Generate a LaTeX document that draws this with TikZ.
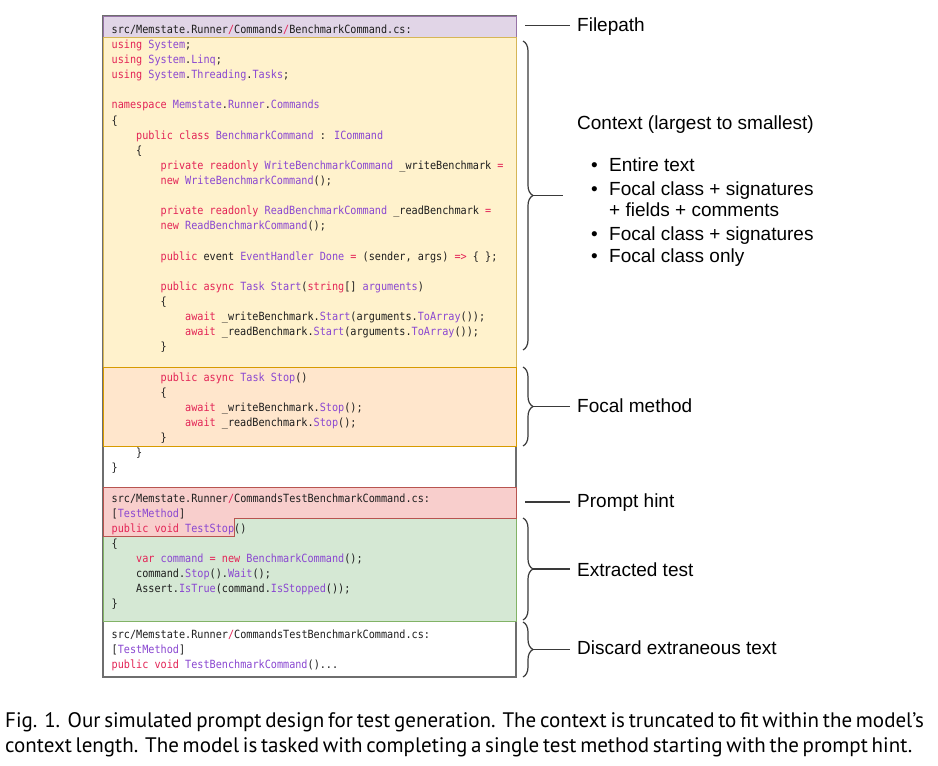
\documentclass[tikz,border=0pt]{standalone}
\usepackage{fontspec}
\usetikzlibrary{decorations.pathreplacing}
\newfontfamily\codefont[FakeStretch=0.9]{DejaVu Sans Mono}
\newfontfamily\labfont{Liberation Sans}
\newfontfamily\capfont{PT Sans}
\definecolor{kwc}{HTML}{E32456}
\definecolor{tyc}{HTML}{8A47D1}
\definecolor{purF}{HTML}{E1D5E7}\definecolor{purD}{HTML}{9673A6}
\definecolor{yelF}{HTML}{FFF2CC}\definecolor{yelD}{HTML}{D6B656}
\definecolor{oraF}{HTML}{FFE6CC}\definecolor{oraD}{HTML}{D79B00}
\definecolor{redF}{HTML}{F8CECC}\definecolor{redD}{HTML}{B85450}
\definecolor{greF}{HTML}{D5E8D4}\definecolor{greD}{HTML}{82B366}
\definecolor{outD}{HTML}{6E6E6E}
\definecolor{brc}{HTML}{3A3A3A}
\definecolor{codetext}{HTML}{1E1E1E}
\newcommand\ckw[1]{\textcolor{kwc}{#1}}
\newcommand\cty[1]{\textcolor{tyc}{#1}}
\newcommand\codeln[3]{\node[codeline] (l#1) at ({111.5+#2*6.12},{33.3+#1*15.12}) {#3};}
\tikzset{
  codeline/.style={anchor=base west,inner sep=0pt,text=codetext,font=\codefont\fontsize{11.3}{13}\selectfont},
  lab/.style={anchor=base west,inner sep=0pt,font=\labfont\fontsize{19}{22}\selectfont},
  captext/.style={anchor=base west,inner sep=0pt,font=\capfont\fontsize{21}{25}\selectfont},
  bracest/.style={draw=brc,line width=1.2pt,decorate,decoration={brace,amplitude=10pt}},
  conn/.style={draw=brc,line width=1.2pt},
  boxln/.style={line width=1pt},
}
\begin{document}
\begin{tikzpicture}[x=1pt,y=-1pt]
\useasboundingbox (0,0) rectangle (938,766);
\fill[white] (0,0) rectangle (938,766);
% outer box
\draw[outD,line width=1.3pt,fill=white] (103,16) rectangle (516,677);
% sections
\filldraw[boxln,fill=purF,draw=purD] (103,16) rectangle (516,37);
\filldraw[boxln,fill=yelF,draw=yelD] (103,37) rectangle (516,367);
\filldraw[boxln,fill=oraF,draw=oraD] (103,367) rectangle (516,446);
\filldraw[boxln,fill=greF,draw=greD] (234,518) -- (516,518) -- (516,621) -- (103,621) -- (103,536) -- (234,536) -- cycle;
\filldraw[boxln,fill=redF,draw=redD] (103,487) -- (516,487) -- (516,518) -- (234,518) -- (234,536) -- (103,536) -- cycle;
% code
\codeln{0}{0}{src/Memstate.Runner\ckw{/}Commands\ckw{/}BenchmarkCommand.cs:}
\codeln{1}{0}{\ckw{using} \cty{System};}
\codeln{2}{0}{\ckw{using} \cty{System}.\cty{Linq};}
\codeln{3}{0}{\ckw{using} \cty{System}.\cty{Threading}.\cty{Tasks};}
\codeln{5}{0}{\ckw{namespace} \cty{Memstate}.\cty{Runner}.\cty{Commands}}
\codeln{6}{0}{\{}
\codeln{7}{4}{\ckw{public class} \cty{BenchmarkCommand} : \cty{ICommand}}
\codeln{8}{4}{\{}
\codeln{9}{8}{\ckw{private readonly} \cty{WriteBenchmarkCommand} \_writeBenchmark \ckw{=}}
\codeln{10}{8}{\ckw{new} \cty{WriteBenchmarkCommand}();}
\codeln{12}{8}{\ckw{private readonly} \cty{ReadBenchmarkCommand} \_readBenchmark \ckw{=}}
\codeln{13}{8}{\ckw{new} \cty{ReadBenchmarkCommand}();}
\codeln{15}{8}{\ckw{public} event \cty{EventHandler} \cty{Done} \ckw{=} (sender, args) \ckw{=>} \{ \};}
\codeln{17}{8}{\ckw{public async} \cty{Task} \cty{Start}(\ckw{string}[] \cty{arguments})}
\codeln{18}{8}{\{}
\codeln{19}{12}{\ckw{await} \_writeBenchmark.\cty{Start}(arguments.\cty{ToArray}());}
\codeln{20}{12}{\ckw{await} \_readBenchmark.\cty{Start}(arguments.\cty{ToArray}());}
\codeln{21}{8}{\}}
\codeln{23}{8}{\ckw{public async} \cty{Task} \cty{Stop}()}
\codeln{24}{8}{\{}
\codeln{25}{12}{\ckw{await} \_writeBenchmark.\cty{Stop}();}
\codeln{26}{12}{\ckw{await} \_readBenchmark.\cty{Stop}();}
\codeln{27}{8}{\}}
\codeln{28}{4}{\}}
\codeln{29}{0}{\}}
\codeln{31}{0}{src/Memstate.Runner\ckw{/}CommandsTestBenchmarkCommand.cs:}
\codeln{32}{0}{[\cty{TestMethod}]}
\codeln{33}{0}{\ckw{public void} \cty{TestStop}()}
\codeln{34}{0}{\{}
\codeln{35}{4}{\ckw{var} \cty{command} \ckw{=} \ckw{new} \cty{BenchmarkCommand}();}
\codeln{36}{4}{command.\cty{Stop}().\cty{Wait}();}
\codeln{37}{4}{Assert.\cty{IsTrue}(command.\cty{IsStopped}());}
\codeln{38}{0}{\}}
\codeln{40}{0}{src/Memstate.Runner\ckw{/}CommandsTestBenchmarkCommand.cs:}
\codeln{41}{0}{[\cty{TestMethod}]}
\codeln{42}{0}{\ckw{public void} \cty{TestBenchmarkCommand}()...}
% labels
\node[lab] (fp) at (577,31.7) {Filepath};
\node[lab] (ctx) at (577,129.3) {Context (largest to smallest)};
\node[lab] (b1d) at (591,171.7) {•};
\node[lab] (b1) at (609,171.7) {Entire text};
\node[lab] (b2d) at (591,195) {•};
\node[lab] (b2) at (609,195) {Focal class + signatures};
\node[lab] (b2b) at (609,216.7) {+ fields + comments};
\node[lab] (b3d) at (591,240) {•};
\node[lab] (b3) at (609,240) {Focal class + signatures};
\node[lab] (b4d) at (591,262.7) {•};
\node[lab] (b4) at (609,262.7) {Focal class only};
\node[lab] (fm) at (577,412.7) {Focal method};
\node[lab] (ph) at (577,507.7) {Prompt hint};
\node[lab] (et) at (577,576) {Extracted test};
\node[lab] (dt) at (577,654.3) {Discard extraneous text};
% connectors
\coordinate (fpA) at (525,25.5); \coordinate (fpB) at (570,25.5);
\draw[conn] (fpA) -- (fpB);
\coordinate (phA) at (525,502); \coordinate (phB) at (570,502);
\draw[conn] (phA) -- (phB);
\draw[bracest] (523,41) -- (523,350);
\coordinate (ctxT) at (533,195.5); \coordinate (ctxE) at (563,195.5);
\draw[conn] (ctxT) -- (ctxE);
\draw[bracest] (523,367) -- (523,446);
\coordinate (fmT) at (533,406.5); \coordinate (fmE) at (570,406.5);
\draw[conn] (fmT) -- (fmE);
\draw[bracest] (523,518) -- (523,620);
\coordinate (etT) at (533,569); \coordinate (etE) at (570,569);
\draw[conn] (etT) -- (etE);
\draw[bracest] (523,622) -- (523,677);
\coordinate (dtT) at (533,649.5); \coordinate (dtE) at (570,649.5);
\draw[conn] (dtT) -- (dtE);
% caption
\node[captext] (cap1) at (5,727)
  {\makebox[918pt][s]{Fig. 1.\ \ Our simulated prompt design for test generation. The context is truncated to fit within the model’s}};
\node[captext] (cap2) at (5,752)
  {\makebox[883pt][s]{context length. The model is tasked with completing a single test method starting with the prompt hint.}};
\end{tikzpicture}
\end{document}
